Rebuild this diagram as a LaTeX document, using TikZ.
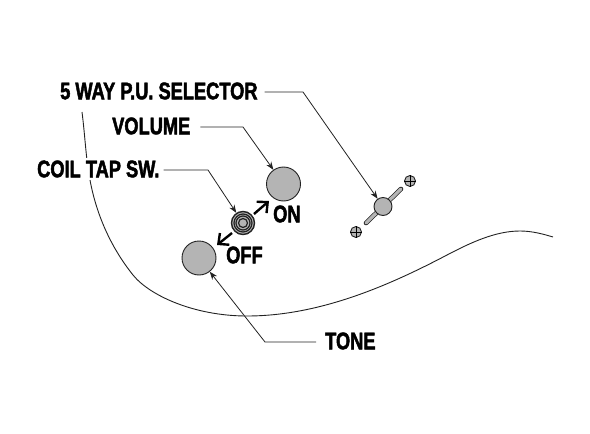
\documentclass[tikz,border=0pt]{standalone}
\usepackage{fontspec}
\setmainfont{Liberation Sans}[BoldFeatures={FakeStretch=0.76,FakeBold=2}]
\usetikzlibrary{arrows.meta,positioning,calc}
\definecolor{knobgray}{HTML}{B4B4B4}
\definecolor{inkline}{HTML}{222222}
\tikzset{
  callout/.style={font=\fontsize{24}{24}\selectfont\bfseries, inner sep=0pt, text=black},
  knob/.style={circle, draw=inkline, line width=0.9pt, fill=knobgray, minimum size=34pt, inner sep=0pt},
  screw/.style={circle, draw=inkline, line width=0.9pt, fill=knobgray, minimum size=11pt, inner sep=0pt},
  leader/.style={-{Stealth[length=8pt,width=6pt]}, line width=0.8pt, draw=inkline},
  turn/.style={-{Straight Barb[length=8pt,width=15pt,line width=2.4pt]}, line width=2.4pt}
}
\begin{document}
\begin{tikzpicture}[x=1pt,y=-1pt]
  \useasboundingbox (0,0) rectangle (590,434);
  % body outline
  \draw[inkline,line width=0.9pt] (82,112) .. controls (85,135) and (86,160) .. (90,180)
    .. controls (97,218) and (113,250) .. (133,275)
    .. controls (150,296) and (195,316) .. (247,316)
    .. controls (320,316) and (390,285) .. (447,255)
    .. controls (470,243) and (495,231) .. (520,231)
    .. controls (532,231) and (543,234) .. (553,237);
  % knobs
  \node[knob] (volume) at (283.5,184) {};
  \node[knob] (tone) at (199,258) {};
  % coil tap switch
  \node[circle,draw=inkline,line width=1.4pt,fill=knobgray,minimum size=23pt,inner sep=0pt] (coil) at (243,223) {};
  \foreach \r in {9,7,4.5} { \draw[inkline,line width=1.2pt,fill=knobgray] (coil) circle (\r); }
  % selector
  \node[screw] (screwa) at (410,181) {};
  \node[screw] (screwb) at (356,232) {};
  \draw (screwa.west)--(screwa.east) (screwa.north)--(screwa.south);
  \draw (screwb.west)--(screwb.east) (screwb.north)--(screwb.south);
  \coordinate (levera) at (401,189);
  \coordinate (leverb) at (366,223);
  \draw[inkline,line width=4.6pt,line cap=round] (levera)--(leverb);
  \draw[knobgray,line width=3.2pt,line cap=round] (levera)--(leverb);
  \node[knob,minimum size=18pt] (selector) at (383,206.5) {};
  % labels
  \node[callout,anchor=west] (waylabel) at (60,91) {5 WAY P.U. SELECTOR};
  \node[callout,anchor=west] (volumelabel) at (112,126) {VOLUME};
  \node[callout,anchor=west,fill=white,inner ysep=3pt] (coillabel) at (37,169) {COIL TAP SW.};
  \node[callout,anchor=west] (tonelabel) at (325,341) {TONE};
  \node[callout,anchor=west] (onlabel) at (273,214) {ON};
  \node[callout,anchor=west] (offlabel) at (226,255) {OFF};
  % leaders
  \coordinate (waybend) at (303,92);
  \coordinate (volumebend) at (243,127);
  \coordinate (coilbend) at (208,170);
  \coordinate (tonebend) at (265,342);
  \draw[leader,shorten <=7pt] (waylabel.east |- waybend)--(waybend)--(selector);
  \draw[leader,shorten <=10pt] (volumelabel.east |- volumebend)--(volumebend)--(volume);
  \draw[leader,shorten <=4pt] (coillabel.east |- coilbend)--(coilbend)--(coil);
  \draw[leader,shorten <=9pt] (tonelabel.west |- tonebend)--(tonebend)--(tone);
  % on and off arrows
  \coordinate (onstart) at (254,214);
  \coordinate (ontip) at (269,201);
  \coordinate (offstart) at (232,233);
  \coordinate (offtip) at (217,245);
  \draw[turn] (onstart)--(ontip);
  \draw[turn] (offstart)--(offtip);
\end{tikzpicture}
\end{document}
